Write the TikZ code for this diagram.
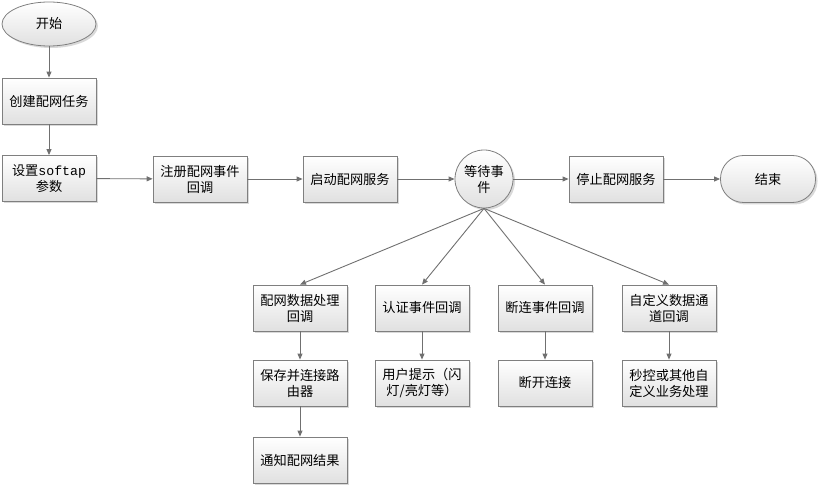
\documentclass[tikz,border=0pt]{standalone}
\usepackage{fontspec}
\setmainfont{Noto Sans CJK SC}
\newfontfamily\monof{Liberation Mono}
\usetikzlibrary{shapes.geometric,shadows,arrows.meta}
\definecolor{edgec}{HTML}{7F7F7F}
\definecolor{linec}{HTML}{707070}
\tikzset{
  base/.style={draw=edgec, line width=0.8pt, top color=white, bottom color=black!12,
    drop shadow={shadow xshift=2pt, shadow yshift=-2pt, fill=black!25, opacity=0.6},
    font=\fontsize{13.2}{16}\selectfont, align=center, inner sep=0pt},
  box/.style={base, rectangle, minimum width=94pt, minimum height=46pt, text width=90pt},
  startnode/.style={base, ellipse, minimum width=94pt, minimum height=44pt},
  endnode/.style={base, rounded corners=23pt, minimum width=95pt, minimum height=47pt},
  waitnode/.style={base, circle, minimum size=58pt, text width=44pt},
  arr/.style={draw=linec, line width=0.9pt, -{Triangle[length=6pt,width=5pt]}}
}
\begin{document}
\begin{tikzpicture}[x=1pt,y=-1pt]
\useasboundingbox (0,0) rectangle (818,486);
\node[startnode] (start) at (49,24) {开始};
\node[box] (create) at (49,101) {创建配网任务};
\node[box] (softap) at (49,178.5) {设置{\monof softap}\\参数};
\node[box] (reg) at (200,179) {注册配网事件\\回调};
\node[box] (startsvc) at (350,179) {启动配网服务};
\node[waitnode] (wait) at (484,179) {等待事\\件};
\node[box] (stopsvc) at (616,179) {停止配网服务};
\node[endnode] (end) at (768,179) {结束};
\node[box] (cfg) at (300,308) {配网数据处理\\回调};
\node[box] (auth) at (422,308) {认证事件回调};
\node[box] (disc) at (545,308) {断连事件回调};
\node[box] (cust) at (669,308) {自定义数据通\\道回调};
\node[box] (save) at (300,383) {保存并连接路\\由器};
\node[box] (hint) at (422,383) {用户提示（闪\\灯/亮灯等）};
\node[box] (cut) at (545,383) {断开连接};
\node[box] (other) at (669,383) {秒控或其他自\\定义业务处理};
\node[box] (notify) at (300,460) {通知配网结果};
\draw[arr] (start) -- (create);
\draw[arr] (create) -- (softap);
\draw[arr] (softap) -- (reg);
\draw[arr] (reg) -- (startsvc);
\draw[arr] (startsvc) -- (wait);
\draw[arr] (wait) -- (stopsvc);
\draw[arr] (stopsvc) -- (end);
\draw[arr] (wait.south) -- (cfg.north);
\draw[arr] (wait.south) -- (auth.north);
\draw[arr] (wait.south) -- (disc.north);
\draw[arr] (wait.south) -- (cust.north);
\draw[arr] (cfg) -- (save);
\draw[arr] (save) -- (notify);
\draw[arr] (auth) -- (hint);
\draw[arr] (disc) -- (cut);
\draw[arr] (cust) -- (other);
\end{tikzpicture}
\end{document}
